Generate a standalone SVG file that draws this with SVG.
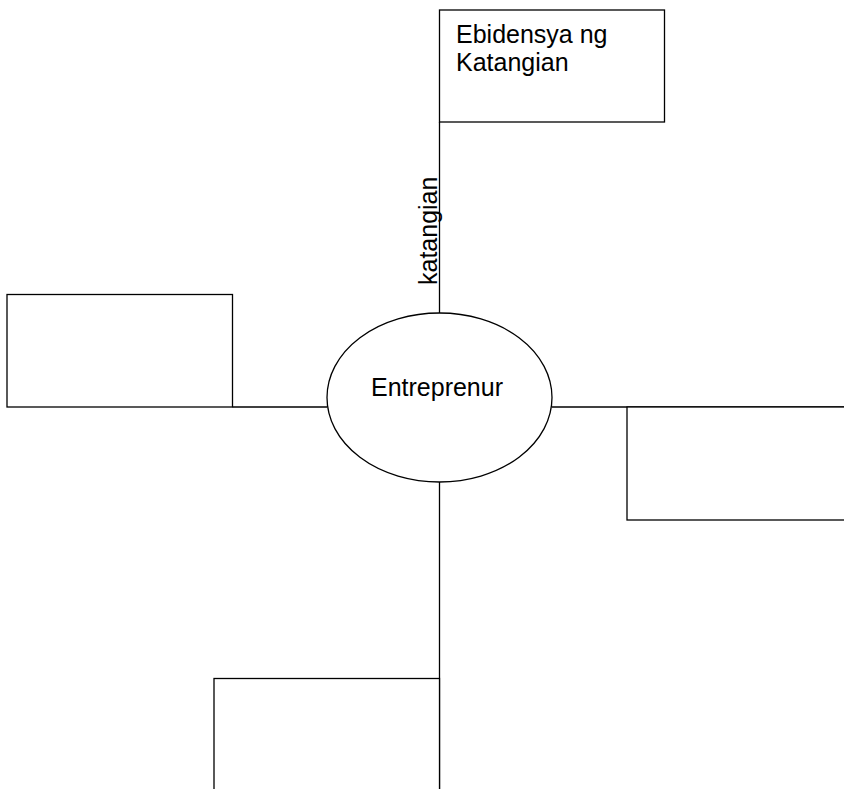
<svg xmlns="http://www.w3.org/2000/svg" width="844" height="789" viewBox="0 0 844 789">
<style>
.box{fill:#fff;stroke:#000;stroke-width:1.3}
.ln{fill:none;stroke:#000;stroke-width:1.3}
.t{font-family:"Liberation Sans",Arial,sans-serif;font-size:25px;fill:#000}
</style>
<rect width="844" height="789" fill="#fff"/>
<g id="connectors">
<line class="ln" x1="439.5" y1="122" x2="439.5" y2="313"/>
<line class="ln" x1="232.5" y1="407" x2="327" y2="407"/>
<line class="ln" x1="552" y1="407" x2="844" y2="407"/>
<line class="ln" x1="439.5" y1="482" x2="439.5" y2="789"/>
<text class="t" transform="translate(437,285) rotate(-90)">katangian</text>
</g>
<g id="top-box">
<rect class="box" x="439.5" y="10" width="225" height="112"/>
<text class="t" x="456" y="43">Ebidensya ng</text>
<text class="t" x="456" y="71">Katangian</text>
</g>
<g id="left-box">
<rect class="box" x="7" y="294.5" width="225.5" height="112.5"/>
</g>
<g id="right-box">
<rect class="box" x="627" y="407" width="240" height="113"/>
</g>
<g id="bottom-box">
<rect class="box" x="214" y="678.5" width="225.5" height="130"/>
</g>
<g id="center">
<ellipse class="box" cx="439.5" cy="397.5" rx="112.5" ry="84.5"/>
<text class="t" x="437" y="396" text-anchor="middle">Entreprenur</text>
</g>
</svg>
